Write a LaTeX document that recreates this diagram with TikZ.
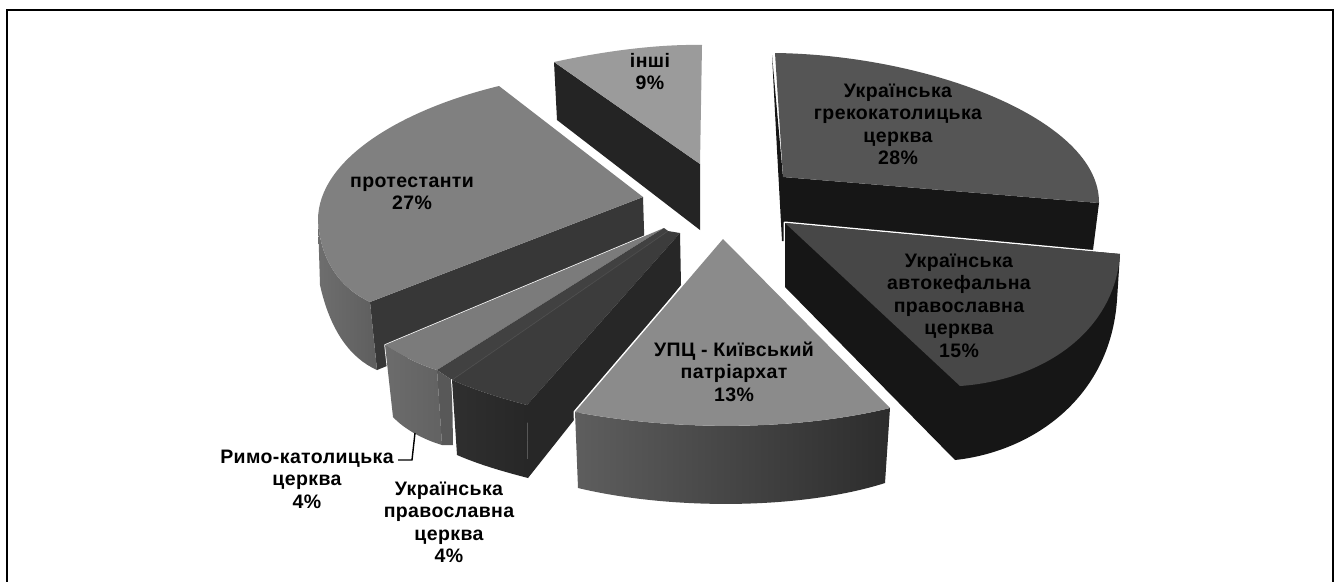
\documentclass[tikz,border=0pt]{standalone}
\usepackage{fontspec}
\setmainfont{Liberation Sans}[LetterSpace=2.0]
\newcommand\lbltab[1]{\begin{tabular}[t]{@{}c@{}}#1\end{tabular}}
\definecolor{cInTop}{HTML}{9B9B9B}
\definecolor{cInFace}{HTML}{242424}
\definecolor{cPrTop}{HTML}{808080}
\definecolor{cPrFace}{HTML}{373737}
\definecolor{cPrSideL}{HTML}{6E6E6E}
\definecolor{cPrSideR}{HTML}{5E5E5E}
\definecolor{cGkTop}{HTML}{555555}
\definecolor{cGkFace}{HTML}{161616}
\definecolor{cApTop}{HTML}{474747}
\definecolor{cApFace}{HTML}{161616}
\definecolor{cKpTop}{HTML}{8B8B8B}
\definecolor{cKpSideL}{HTML}{5E5E5E}
\definecolor{cKpSideR}{HTML}{2C2C2C}
\definecolor{cRkTop}{HTML}{7B7B7B}
\definecolor{cRkSideL}{HTML}{6C6C6C}
\definecolor{cRkSideR}{HTML}{626262}
\definecolor{cRkRadFront}{HTML}{585858}
\definecolor{cRkRadBand}{HTML}{414141}
\definecolor{cUpTop}{HTML}{3C3C3C}
\definecolor{cUpLine}{HTML}{4C4C4C}
\definecolor{cUpFront}{HTML}{2F2F2F}
\definecolor{cUpRad}{HTML}{272727}
\tikzset{
  halo/.style={draw=white,line width=#1,line join=round},
  halo/.default=3pt,
  lab/.style={anchor=base,inner sep=0pt,font=\fontsize{19.5}{22.5}\selectfont\bfseries},
  frameline/.style={draw=black,line width=2.6pt},
  leader/.style={draw=black,line width=1.4pt}
}
\begin{document}
\begin{tikzpicture}[x=1pt,y=-1pt]
\useasboundingbox (0,0) rectangle (1338,581);
\fill[white] (0,0) rectangle (1338,581);
\draw[frameline] (7,590) -- (7,10) -- (1333,10) -- (1333,590);

% --- inshi (back)
\fill[cInFace] (554,62) -- (700,164) -- (700,230) -- (557,120) -- cycle;
\fill[cInTop] (700,164) -- (554,62) .. controls (600,52) and (655,44) .. (702,45) -- cycle;

% --- protestanty
\fill[cPrFace] (370,302) -- (643,197) -- (645,262) -- (377,370) -- cycle;
\shade[left color=cPrSideL,right color=cPrSideR] (318,220) .. controls (320,260) and (340,288) .. (370,302) -- (377,370) .. controls (350,358) and (330,330) .. (320,285) -- cycle;
\fill[cPrTop] (643,197) -- (499,86) .. controls (400,110) and (318,160) .. (318,220) .. controls (320,260) and (340,288) .. (370,302) -- cycle;

% --- UGKC
\fill[cGkFace] (772,55) -- (783,177) -- (1099,203) -- (1093,250) -- (782,241) -- (777,150) -- cycle;
\fill[cGkTop] (775,53) -- (783,177) -- (1099,203) .. controls (1100,120) and (930,55) .. (775,53) -- cycle;

% --- RKC
\path[halo=1.5pt] (664,228) -- (437,370) -- (442,445) -- (393,417) -- (385,345) -- cycle;
\shade[left color=cRkSideL,right color=cRkSideR] (385,345) .. controls (402,356) and (420,365) .. (437,370) -- (442,445) .. controls (425,440) and (405,430) .. (393,417) -- cycle;
\fill[cRkTop] (664,228) -- (385,345) .. controls (402,356) and (420,365) .. (437,370) -- cycle;
\fill[cRkRadBand] (437,370) -- (664,228) -- (668,231) -- (452,380) -- cycle;
\fill[cRkRadFront] (437,370) -- (452,380) -- (453,445) -- (442,445) -- cycle;

% --- UPC
\path[halo=2pt] (452,380) -- (527,405) -- (680,233) -- (681,285) -- (528,478) -- (457,455) -- cycle;
\fill[cUpTop] (452,380) -- (668,231) -- (680,233) -- (527,405) .. controls (500,398) and (475,390) .. (452,380) -- cycle;
\draw[cUpLine,line width=0.8pt] (452,380) -- (668,231);
\shade[left color=cUpFront,right color=cUpRad] (452,380) .. controls (475,390) and (500,398) .. (527,405) -- (528,478) .. controls (505,472) and (480,465) .. (457,455) -- cycle;
\fill[cUpRad] (527,405) -- (680,233) -- (681,285) -- (528,478) -- cycle;

% --- UAPC
\path[halo=3pt] (785,223) -- (1120,254) -- (1117,300) .. controls (1110,400) and (1030,452) .. (955,460) -- (785,287) -- cycle;
\fill[cApFace] (785,223) -- (1120,254) -- (1117,300) .. controls (1110,400) and (1030,452) .. (955,460) -- (785,287) -- cycle;
\fill[cApTop] (785,223) -- (1120,254) .. controls (1115,330) and (1045,380) .. (960,386) -- cycle;

% --- UPC-KP (front)
\path[halo=3pt] (723,239) -- (890,408) -- (885,483) .. controls (800,510) and (670,510) .. (578,488) -- (575,412) -- cycle;
\shade[left color=cKpSideL,right color=cKpSideR] (575,412) .. controls (680,432) and (800,430) .. (890,408) -- (885,483) .. controls (800,510) and (670,510) .. (578,488) -- cycle;
\fill[cKpTop] (723,239) -- (890,408) .. controls (800,430) and (680,432) .. (575,412) -- cycle;

% --- labels
\node[lab] (lInshi) at (650,67) {\lbltab{інші\\9\%}};
\node[lab] (lProt) at (412,187) {\lbltab{протестанти\\27\%}};
\node[lab] (lGk) at (898,97) {\lbltab{Українська\\грекокатолицька\\церква\\28\%}};
\node[lab] (lAp) at (959,267) {\lbltab{Українська\\автокефальна\\православна\\церква\\15\%}};
\node[lab] (lKp) at (734,356) {\lbltab{УПЦ - Київський\\патріархат\\13\%}};
\node[lab] (lRk) at (307,463) {\lbltab{Римо-католицька\\церква\\4\%}};
\node[lab] (lUp) at (449,495) {\lbltab{Українська\\православна\\церква\\4\%}};

\coordinate (rkTip) at (415,433);
\coordinate (rkBend) at (412,460);
\coordinate (rkEnd) at (398,460);
\draw[leader] (rkTip) -- (rkBend) -- (rkEnd);
\end{tikzpicture}
\end{document}
